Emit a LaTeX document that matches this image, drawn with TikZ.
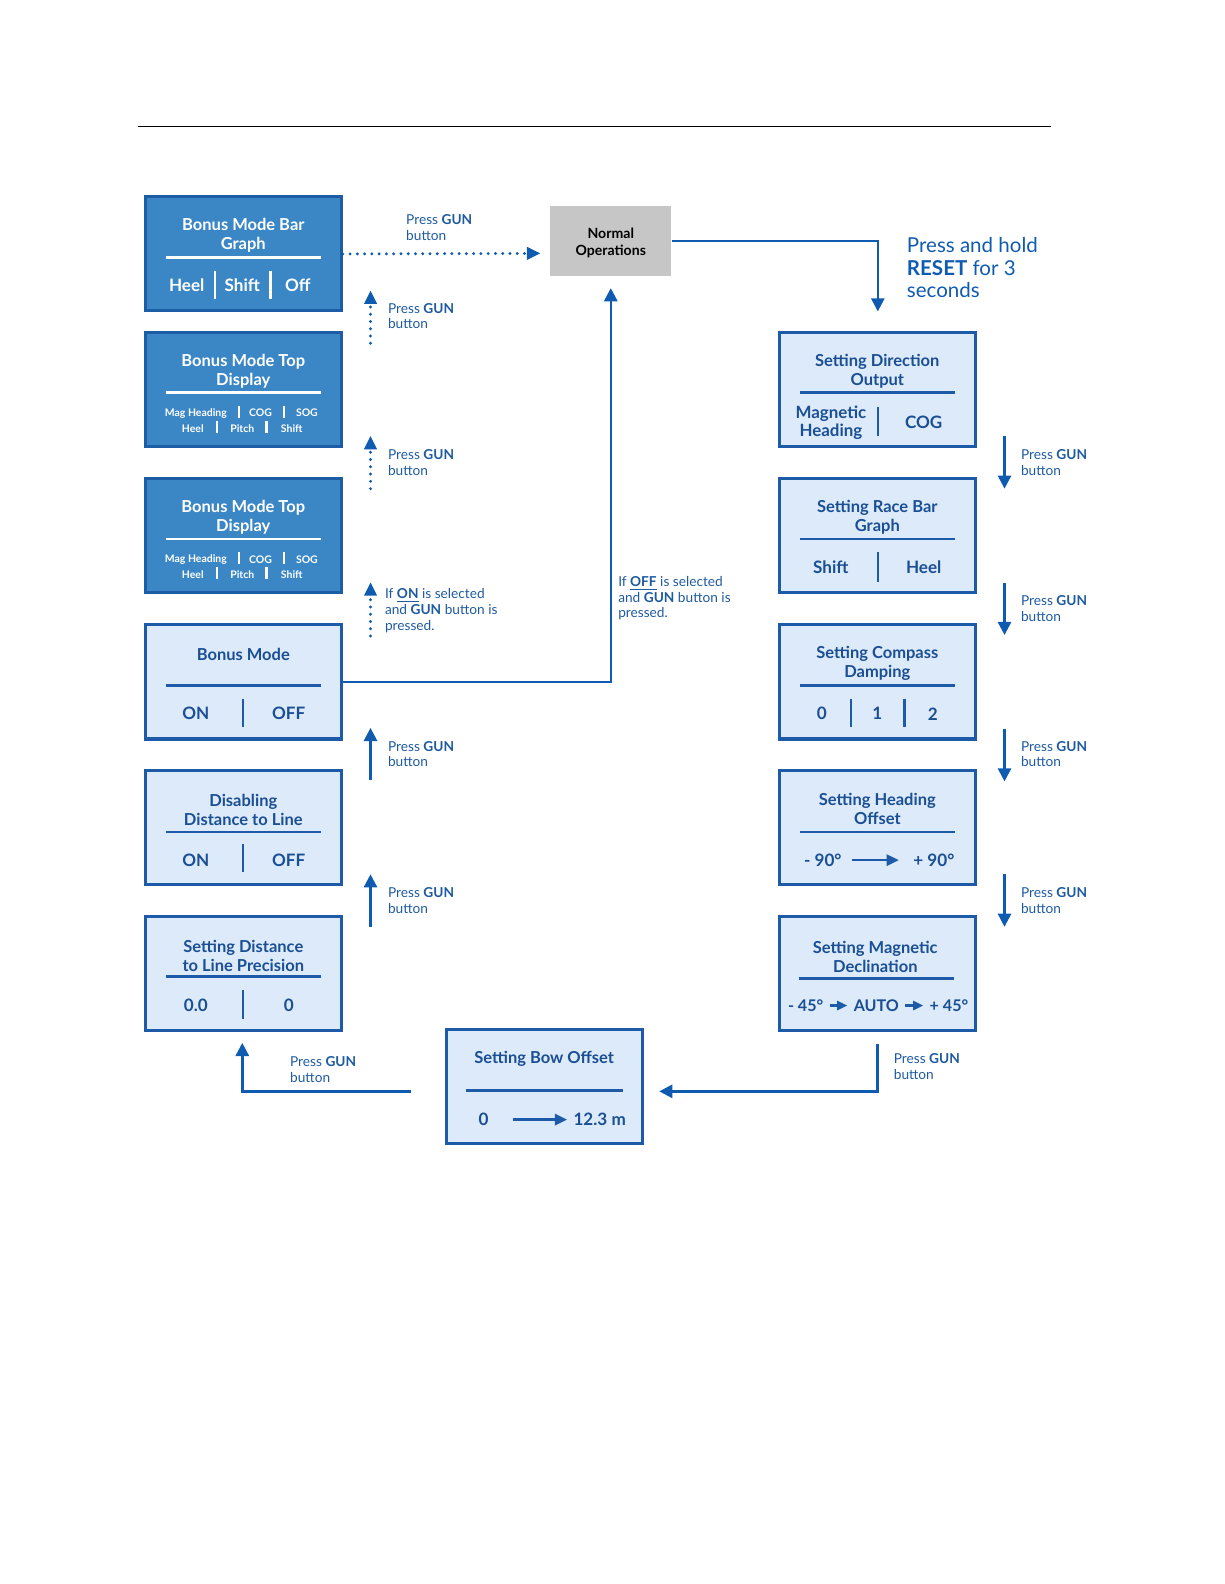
\documentclass[tikz,border=0pt]{standalone}
\usepackage{fontspec}
\setmainfont{Lato}
\usetikzlibrary{arrows.meta,calc}
\definecolor{dkfill}{HTML}{3B87C6}
\definecolor{dkline}{HTML}{1C5EA6}
\definecolor{ltfill}{HTML}{DCEAFA}
\definecolor{ltline}{HTML}{1D5BA8}
\definecolor{ttl}{HTML}{1B4F93}
\definecolor{flow}{HTML}{0F5BB0}
\definecolor{lblc}{HTML}{1E5AA0}
\definecolor{grayop}{HTML}{C6C6C6}
\begin{document}
\begin{tikzpicture}[x=0.5bp,y=-0.5bp,
  dkbox/.style={draw=dkline, fill=dkfill, line width=1.5bp, minimum width=97bp, minimum height=56.5bp, inner sep=0},
  ltbox/.style={draw=ltline, fill=ltfill, line width=1.5bp, minimum width=97bp, minimum height=56.5bp, inner sep=0},
  ttlw/.style={text=white, font=\bfseries\fontsize{8.2}{9.5}\selectfont, align=center, inner sep=0, yshift=-1bp},
  ttlb/.style={text=ttl, font=\bfseries\fontsize{8.2}{9.5}\selectfont, align=center, inner sep=0, yshift=-1bp},
  optw/.style={text=white, font=\bfseries\fontsize{8.5}{10}\selectfont, inner sep=0, yshift=-1bp},
  optb/.style={text=ttl, font=\bfseries\fontsize{8.5}{10}\selectfont, align=center, inner sep=0, yshift=-1bp},
  tinyw/.style={text=white, font=\bfseries\fontsize{5.2}{6}\selectfont, inner sep=0, yshift=-0.6bp},
  sepw/.style={white, line width=1.3bp},
  sepb/.style={ltline, line width=1.3bp},
  divw/.style={white, line width=1.1bp},
  divb/.style={ltline, line width=1.1bp},
  flowline/.style={flow, line width=1.2bp},
  tipa/.style={-{Triangle[length=6.5bp,width=6.5bp]}},
  dots/.style={flow, line width=1.6bp, line cap=round, dash pattern=on 0pt off 3.6bp},
  lbl/.style={text=lblc, font=\fontsize{6.8}{7.8}\selectfont, align=left, anchor=west, inner sep=0, yshift=-1bp},
  inarrow/.style={ltline, line width=1.2bp, -{Triangle[length=6bp,width=5.5bp]}},
  inarrows/.style={ltline, line width=1.1bp, -{Triangle[length=5bp,width=4.5bp]}},
]
\useasboundingbox (0,0) rectangle (1212.5,1569);
\draw[black, line width=0.6bp] (137,125) -- (1041,125);

% ---------------- Normal operations
\node[draw=none, fill=grayop, minimum width=60bp, minimum height=34.5bp, inner sep=0] (norm) at (605,238.5) {};
\node[font=\bfseries\fontsize{7}{8.5}\selectfont, align=center, inner sep=0, yshift=-1bp] (normt) at (605,239) {Normal\\Operations};

% ---------------- Left column
\node[dkbox] (L1) at (241,251.5) {};
\node[ttlw] (L1t) at (241,231) {Bonus Mode Bar\\Graph};
\draw[sepw] (164,255) -- (318,255);
\node[optw] (L1a) at (185,281) {Heel};
\node[optw] (L1b) at (240,281) {Shift};
\node[optw] (L1c) at (295,281) {Off};
\draw[divw] (213,268) -- (213,296);
\draw[divw] (268,268) -- (268,296);

\node[dkbox] (L2) at (241,386) {};
\node[ttlw] (L2t) at (241,366) {Bonus Mode Top\\Display};
\draw[sepw] (164,389) -- (318,389);
\node[tinyw] (L2a) at (194,408) {Mag Heading};
\node[tinyw] (L2b) at (258,408) {COG};
\node[tinyw] (L2c) at (304,408) {SOG};
\node[tinyw] (L2d) at (191,423) {Heel};
\node[tinyw] (L2e) at (240,423) {Pitch};
\node[tinyw] (L2f) at (289,423) {Shift};
\draw[divw] (237,402) -- (237,414);
\draw[divw] (281,402) -- (281,414);
\draw[divw] (215,417) -- (215,429);
\draw[divw] (264,417) -- (264,429);

\node[dkbox] (L3) at (241,530.5) {};
\node[ttlw] (L3t) at (241,510.5) {Bonus Mode Top\\Display};
\draw[sepw] (164,534) -- (318,534);
\node[tinyw] (L3a) at (194,553) {Mag Heading};
\node[tinyw] (L3b) at (258,553) {COG};
\node[tinyw] (L3c) at (304,553) {SOG};
\node[tinyw] (L3d) at (191,568) {Heel};
\node[tinyw] (L3e) at (240,568) {Pitch};
\node[tinyw] (L3f) at (289,568) {Shift};
\draw[divw] (237,547) -- (237,559);
\draw[divw] (281,547) -- (281,559);
\draw[divw] (215,562) -- (215,574);
\draw[divw] (264,562) -- (264,574);

\node[ltbox] (L4) at (241,675.5) {};
\node[ttlb] (L4t) at (241,646) {Bonus Mode};
\draw[sepb] (164,679) -- (318,679);
\node[optb] (L4a) at (194,705) {ON};
\node[optb] (L4b) at (286,705) {OFF};
\draw[divb] (241,692) -- (241,720);

\node[ltbox] (L5) at (241,819.5) {};
\node[ttlb] (L5t) at (241,800) {Disabling\\Distance to Line};
\draw[sepb] (164,824) -- (318,824);
\node[optb] (L5a) at (194,850) {ON};
\node[optb] (L5b) at (286,850) {OFF};
\draw[divb] (241,836) -- (241,864);

\node[ltbox] (L6) at (241,964) {};
\node[ttlb] (L6t) at (241,944.5) {Setting Distance\\to Line Precision};
\draw[sepb] (164,967) -- (318,967);
\node[optb] (L6a) at (194,994) {0.0};
\node[optb] (L6b) at (286,994) {0};
\draw[divb] (241,981) -- (241,1009);

% ---------------- Right column
\node[ltbox] (R1) at (869.5,385.5) {};
\node[ttlb] (R1t) at (869,366) {Setting Direction\\Output};
\draw[sepb] (792,389) -- (946,389);
\node[optb, font=\bfseries\fontsize{8.4}{9}\selectfont] (R1a) at (823,416.5) {Magnetic\\Heading};
\node[optb] (R1b) at (915,416) {COG};
\draw[divb] (870,403) -- (870,432);

\node[ltbox] (R2) at (869.5,530.5) {};
\node[ttlb] (R2t) at (869,510.5) {Setting Race Bar\\Graph};
\draw[sepb] (792,534) -- (946,534);
\node[optb] (R2a) at (823,560) {Shift};
\node[optb] (R2b) at (915,560) {Heel};
\draw[divb] (870,547) -- (870,576);

\node[ltbox] (R3) at (869.5,675.5) {};
\node[ttlb] (R3t) at (869,655.5) {Setting Compass\\Damping};
\draw[sepb] (792,679) -- (946,679);
\node[optb] (R3a) at (814,705) {0};
\node[optb] (R3b) at (869,705) {1};
\node[optb] (R3c) at (924,705) {2};
\draw[divb] (843,692) -- (843,720);
\draw[divb] (896,692) -- (896,720);

\node[ltbox] (R4) at (869.5,819.5) {};
\node[ttlb] (R4t) at (869,799.5) {Setting Heading\\Offset};
\draw[sepb] (792,824) -- (946,824);
\node[optb] (R4a) at (815,850) {- 90°};
\node[optb] (R4b) at (925,850) {+ 90°};
\draw[inarrow, shorten <=5bp, shorten >=7bp] (R4a.east) -- (R4b.west);

\node[ltbox] (R5) at (869.5,964) {};
\node[ttlb] (R5t) at (867,946) {Setting Magnetic\\Declination};
\draw[sepb] (791,969) -- (945,969);
\node[optb, font=\bfseries\fontsize{8}{9}\selectfont] (R5a) at (798,994) {- 45°};
\node[optb, font=\bfseries\fontsize{8}{9}\selectfont] (R5b) at (868,994) {AUTO};
\node[optb, font=\bfseries\fontsize{8}{9}\selectfont] (R5c) at (940,994) {+ 45°};
\draw[inarrows, shorten <=3bp, shorten >=3bp] (R5a.east) -- (R5b.west);
\draw[inarrows, shorten <=3bp, shorten >=3bp] (R5b.east) -- (R5c.west);

% ---------------- Bottom box
\node[ltbox] (B) at (539.5,1076.5) {};
\node[ttlb] (Bt) at (539,1047) {Setting Bow Offset};
\draw[sepb] (462,1080) -- (617,1080);
\node[optb] (Ba) at (479,1107) {0};
\node[optb] (Bb) at (594,1107) {12.3 m};
\draw[inarrow, shorten <=12bp, shorten >=3bp] (Ba.east) -- (Bb.west);

% ---------------- Connectors
\coordinate (d0e) at (535,251);
\draw[dots] (L1.east) -- (523,251);
\fill[flow] (d0e) -- (522,244.5) -- (522,257.5) -- cycle;
\node[lbl] (lab0) at (402,223.5) {Press \textbf{GUN}\\button};

\coordinate (d1s) at (367,340); \coordinate (d1e) at (367,288);
\draw[dots] (d1s) -- (367,302);
\fill[flow] (d1e) -- (360.5,301) -- (373.5,301) -- cycle;
\node[lbl] (lab1) at (384,311) {Press \textbf{GUN}\\button};

\coordinate (d2s) at (367,484); \coordinate (d2e) at (367,432);
\draw[dots] (d2s) -- (367,446);
\fill[flow] (d2e) -- (360.5,445) -- (373.5,445) -- cycle;
\node[lbl] (lab2) at (384,456) {Press \textbf{GUN}\\button};

\coordinate (d3s) at (367,630); \coordinate (d3e) at (367,577);
\draw[dots] (d3s) -- (367,591);
\fill[flow] (d3e) -- (360.5,590) -- (373.5,590) -- cycle;
\node[lbl] (lab3) at (381,603) {If \underline{\textbf{ON}} is selected\\and \textbf{GUN} button is\\pressed.};

\coordinate (s1s) at (367,773); \coordinate (s1e) at (367,721);
\draw[flowline, tipa] (s1s) -- (s1e);
\node[lbl] (lab4) at (384,745) {Press \textbf{GUN}\\button};
\coordinate (s2s) at (367,918); \coordinate (s2e) at (367,866);
\draw[flowline, tipa] (s2s) -- (s2e);
\node[lbl] (lab5) at (384,890) {Press \textbf{GUN}\\button};

\draw[flowline, tipa, shorten >=6bp] (L4.east) -| (norm.south);
\node[lbl] (lab6) at (612,590.5) {If \underline{\textbf{OFF}} is selected\\and \textbf{GUN} button is\\pressed.};

\draw[flowline, tipa, shorten >=9.5bp] (norm.east) -| (R1.north);
\node[lbl, text=flow, font=\fontsize{10.2}{11}\selectfont] (lab7) at (898,263) {Press and hold\\\textbf{RESET} for 3\\seconds};

\foreach \ys/\ye/\yl [count=\i] in {432/484/456, 577/629/600.5, 722/774/745, 866/918/890}{
  \coordinate (r\i s) at (995,\ys); \coordinate (r\i e) at (995,\ye);
  \draw[flowline, tipa] (r\i s) -- (r\i e);
  \node[lbl] (rl\i) at (1011,\yl) {Press \textbf{GUN}\\button};
}

\coordinate (m1) at (869,1034); \coordinate (m2) at (653,1081);
\draw[flowline, tipa] (m1) |- (m2);
\node[lbl] (lab8) at (885,1054.5) {Press \textbf{GUN}\\button};

\coordinate (n1) at (407,1081); \coordinate (n2) at (240,1033);
\draw[flowline, tipa] (n1) -| (n2);
\node[lbl] (lab9) at (287,1057.5) {Press \textbf{GUN}\\button};
\end{tikzpicture}
\end{document}
